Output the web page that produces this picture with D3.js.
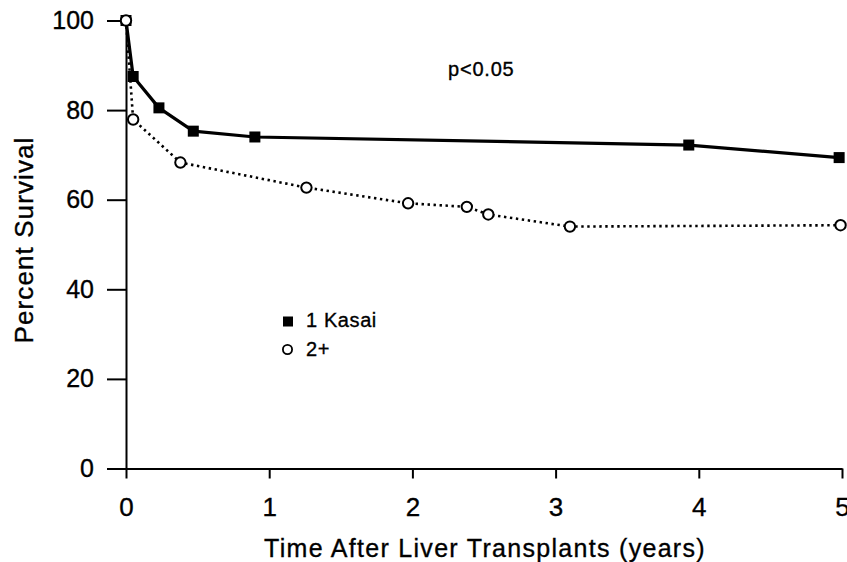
<!DOCTYPE html>
<html>
<head>
<meta charset="utf-8">
<script src="https://cdn.jsdelivr.net/npm/d3@7"></script>
<style>
  html, body { margin: 0; padding: 0; background: #fff; }
  svg { display: block; font-family: "Liberation Sans", Arial, Helvetica, sans-serif; }
  svg text { stroke: #000; stroke-width: 0.35px; }
</style>
</head>
<body>
<svg id="chart" width="847" height="562"></svg>
<script>
// ---- data ----
const kasai1Years  = [0, 0.05, 0.23, 0.47, 0.90, 3.93, 4.98];
const kasai1Values = [100, 87.5, 80.5, 75.3, 74.0, 72.2, 69.4];

const kasai2Years  = [0, 0.05, 0.38, 1.26, 1.97, 2.38, 2.53, 3.10, 4.99];
const kasai2Values = [100, 77.9, 68.3, 62.7, 59.2, 58.4, 56.7, 54.0, 54.3];

const xTicks = [0, 1, 2, 3, 4, 5];
const yTicks = [0, 20, 40, 60, 80, 100];
const seriesNames = ["1 Kasai", "2+"];
const xTitle = "Time After Liver Transplants (years)";
const yTitle = "Percent Survival";
const note = "p<0.05";

// ---- chart ----
const svg = d3.select("#chart");
const x = d3.scaleLinear().domain([0, 5]).range([126, 842]);
const y = d3.scaleLinear().domain([0, 100]).range([468.5, 20.5]);

const s1 = kasai1Years.map((t, i) => ({ t, v: kasai1Values[i] }));
const s2 = kasai2Years.map((t, i) => ({ t, v: kasai2Values[i] }));

// axes
const yAxis = d3.axisLeft(y).tickValues(yTicks).tickFormat(d3.format("d"))
  .tickSize(19).tickSizeOuter(0).tickPadding(13);
const gy = svg.append("g").attr("transform", `translate(${x(0)},0)`).call(yAxis);
gy.select(".domain").attr("stroke", "#000").attr("stroke-width", 2);
gy.selectAll(".tick line").attr("stroke", "#000").attr("stroke-width", 2);
gy.selectAll(".tick text").attr("font-size", 25).attr("fill", "#000")
  .attr("font-family", '"Liberation Sans", Arial, sans-serif');

const xAxis = d3.axisBottom(x).tickValues(xTicks).tickFormat(d3.format("d"))
  .tickSize(10).tickSizeOuter(0).tickPadding(19);
const gx = svg.append("g").attr("transform", `translate(0,${y(0)})`).call(xAxis);
gx.select(".domain").attr("stroke", "#000").attr("stroke-width", 2.2);
gx.selectAll(".tick line").attr("stroke", "#000").attr("stroke-width", 2);
gx.selectAll(".tick text").attr("font-size", 26).attr("fill", "#000")
  .attr("font-family", '"Liberation Sans", Arial, sans-serif');

// axis titles
svg.append("text")
  .attr("x", 485).attr("y", 557)
  .attr("text-anchor", "middle")
  .attr("font-size", 25)
  .attr("letter-spacing", 1.3)
  .attr("fill", "#000")
  .text(xTitle);

svg.append("text")
  .attr("transform", "translate(33,240) rotate(-90)")
  .attr("text-anchor", "middle")
  .attr("font-size", 26)
  .attr("letter-spacing", 1.1)
  .attr("fill", "#000")
  .text(yTitle);

// note
svg.append("text")
  .attr("x", 448).attr("y", 76)
  .attr("font-size", 20)
  .attr("letter-spacing", 0.8)
  .attr("fill", "#000")
  .text(note);

// lines
const line = d3.line().x(d => x(d.t)).y(d => y(d.v));

svg.append("path").datum(s1)
  .attr("d", line)
  .attr("fill", "none")
  .attr("stroke", "#000")
  .attr("stroke-width", 3.2)
  .attr("stroke-linejoin", "round");

svg.append("path").datum(s2)
  .attr("d", line)
  .attr("fill", "none")
  .attr("stroke", "#000")
  .attr("stroke-width", 2.6)
  .attr("stroke-dasharray", "2.4 3.6");

// markers
const sq = 11;
svg.append("g").selectAll("rect").data(s1).join("rect")
  .attr("x", d => x(d.t) - sq / 2)
  .attr("y", d => y(d.v) - sq / 2)
  .attr("width", sq).attr("height", sq)
  .attr("fill", "#000");

svg.append("g").selectAll("circle").data(s2).join("circle")
  .attr("cx", d => x(d.t))
  .attr("cy", d => y(d.v))
  .attr("r", 5.2)
  .attr("fill", "#fff")
  .attr("stroke", "#000")
  .attr("stroke-width", 2);

// legend
const lg = svg.append("g");
lg.append("rect").attr("x", 283).attr("y", 316.5).attr("width", 10).attr("height", 10).attr("fill", "#000");
lg.append("circle").attr("cx", 287.5).attr("cy", 349.5).attr("r", 4.6)
  .attr("fill", "#fff").attr("stroke", "#000").attr("stroke-width", 1.8);
lg.append("text").attr("x", 306).attr("y", 327).attr("font-size", 20).attr("letter-spacing", 0.6)
  .attr("fill", "#000").text(seriesNames[0]);
lg.append("text").attr("x", 306).attr("y", 355.5).attr("font-size", 20).attr("letter-spacing", 0.6)
  .attr("fill", "#000").text(seriesNames[1]);
</script>
</body>
</html>
